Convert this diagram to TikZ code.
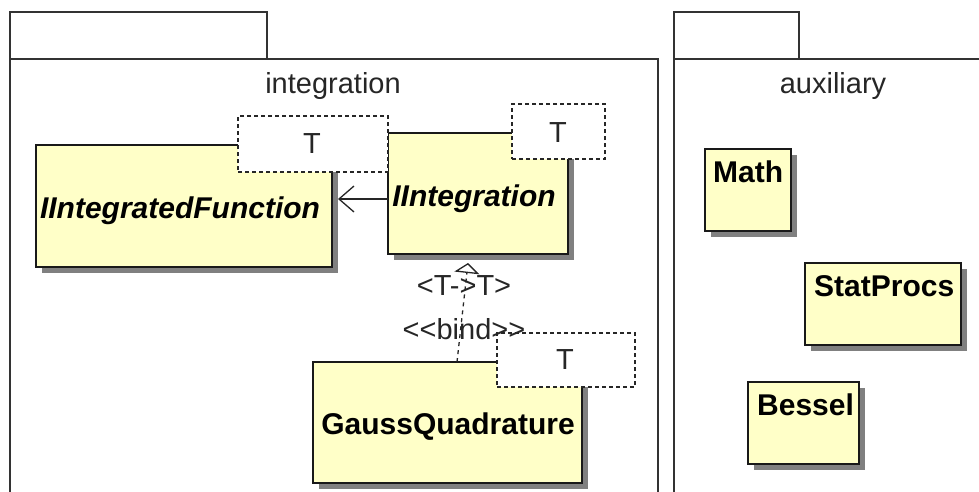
\documentclass[tikz,border=0pt]{standalone}
\usepackage{fontspec}
\setmainfont{Liberation Sans}
\usetikzlibrary{arrows.meta,shadows}
\definecolor{classfill}{RGB}{255,255,200}
\begin{document}
\begin{tikzpicture}[x=1pt,y=-1pt,
 pkg/.style={draw=black!80,line width=1.3pt},
 cls/.style={draw=black!90,line width=1.5pt,fill=classfill,anchor=north west,inner sep=0pt,outer sep=0pt,
   general shadow={fill=black!50,shadow xshift=6pt,shadow yshift=-6pt}},
 tmpl/.style={draw=black!85,line width=1.3pt,dash pattern=on 4pt off 3pt,fill=white,anchor=north west,inner sep=0pt,outer sep=0pt},
 lbl/.style={font=\fontsize{29}{34}\selectfont,text=black!85,anchor=base,inner sep=0pt},
 bname/.style={font=\fontsize{30}{35}\selectfont\bfseries,anchor=base,inner sep=0pt},
 iname/.style={font=\fontsize{30}{35}\selectfont\bfseries\itshape,anchor=base,inner sep=0pt},
 assoc/.style={draw=black!85,line width=1.3pt,-{Straight Barb[length=15pt,width=26pt,line width=1.3pt]}},
 bindline/.style={draw=black!85,line width=1.3pt,dash pattern=on 4pt off 4pt,-{Triangle[open,length=10pt,width=25pt,line width=1.3pt]}},
]
\path[use as bounding box] (0,0) rectangle (979,491);
\clip (0,0) rectangle (979,491);

% packages
\draw[pkg] (10,12) rectangle (267,59);
\draw[pkg] (10,500) -- (10,59) -- (658,59) -- (658,500);
\draw[pkg] (674,12) rectangle (799,59);
\draw[pkg] (674,500) -- (674,59) -- (990,59);
\node[lbl] (pkgint) at (333,93) {integration};
\node[lbl] (pkgaux) at (833,93) {auxiliary};

% classes
\node[cls,minimum width=296pt,minimum height=122pt] (iif) at (36,145) {};
\node[cls,minimum width=180pt,minimum height=121pt] (iint) at (388,133) {};
\node[cls,minimum width=269pt,minimum height=121pt] (gq) at (313,362) {};
\node[cls,minimum width=86pt,minimum height=82pt] (math) at (705,149) {};
\node[cls,minimum width=156pt,minimum height=82pt] (stat) at (805,263) {};
\node[cls,minimum width=111pt,minimum height=82pt] (bessel) at (748,382) {};

% templates
\node[tmpl,minimum width=150pt,minimum height=56pt] (tiif) at (238,116) {};
\node[tmpl,minimum width=93pt,minimum height=55pt] (tiint) at (512,104) {};
\node[tmpl,minimum width=138pt,minimum height=54pt] (tgq) at (497,333) {};
\node[lbl] (tiiftxt) at (312,153) {T};
\node[lbl] (tiinttxt) at (558,142) {T};
\node[lbl] (tgqtxt) at (565,369) {T};

% names
\node[iname] (iiftxt) at (180,218) {IIntegratedFunction};
\node[iname] (iinttxt) at (474,206) {IIntegration};
\node[bname] (gqtxt) at (448,434) {GaussQuadrature};
\node[bname,anchor=base west] (mathtxt) at (713,182) {Math};
\node[bname,anchor=base west] (stattxt) at (814,296) {StatProcs};
\node[bname,anchor=base west] (besseltxt) at (757,415) {Bessel};

% connectors
\draw[assoc] (iint.west |- 0,199) -- ([xshift=6pt]iif.east |- 0,199);
\coordinate (bindtip) at (468,263);
\draw[bindline] (gq.north -| 457,0) -- (bindtip);
\node[lbl] (bindmap) at (464,295) {<T->T>};
\node[lbl] (bindst) at (464,339) {<\kern0pt<bind>\kern0pt>};
\end{tikzpicture}
\end{document}
